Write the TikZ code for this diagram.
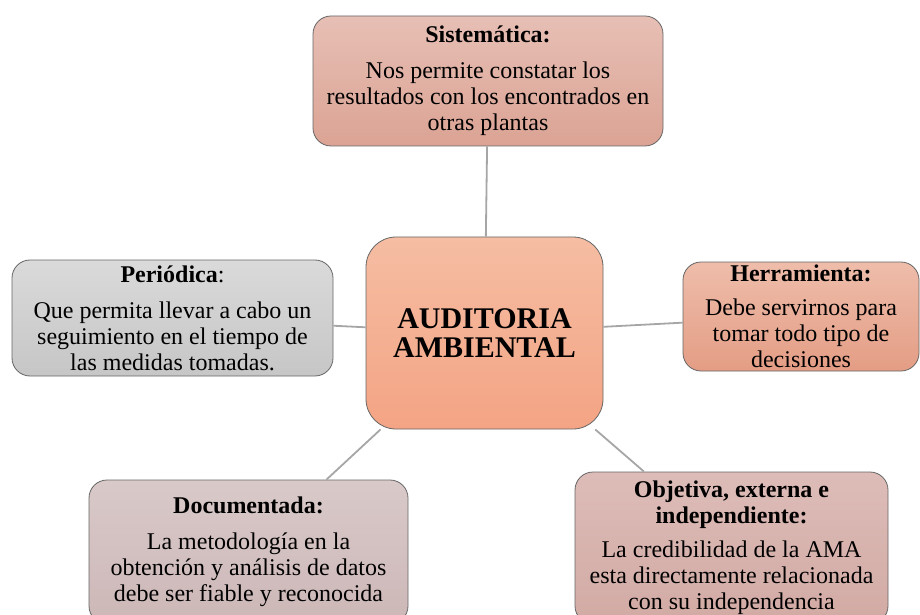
\documentclass[tikz,border=0pt]{standalone}
\usepackage{fontspec}
\setmainfont{Liberation Serif}
\usepackage{tikz}
\definecolor{sisTop}{HTML}{E7BFB5}
\definecolor{sisBot}{HTML}{DBA394}
\definecolor{audTop}{HTML}{F5BDA3}
\definecolor{audBot}{HTML}{F4A484}
\definecolor{perTop}{HTML}{DADADA}
\definecolor{perBot}{HTML}{C6C6C6}
\definecolor{herTop}{HTML}{EEBDAA}
\definecolor{herBot}{HTML}{E49D85}
\definecolor{docTop}{HTML}{D9C9C9}
\definecolor{docBot}{HTML}{CDB7B7}
\definecolor{objTop}{HTML}{DDBCB8}
\definecolor{objBot}{HTML}{D2AAA4}
\definecolor{linkGray}{HTML}{A6A6A6}
\tikzset{%
	every box/.style={
		rectangle,
		rounded corners=18pt,
		draw=black!60,
		line width=0.8pt,
		align=center,
		inner sep=0pt,
		font=\fontsize{24}{26}\selectfont
	},
	box centre/.style={
		rounded corners=30pt,
		top color=audTop, bottom color=audBot,
		minimum width=237pt, minimum height=192pt,
		font=\bfseries\fontsize{30}{29}\selectfont
	},
	box 1/.style={top color=sisTop, bottom color=sisBot, minimum width=350pt, minimum height=130pt},
	box 2/.style={top color=herTop, bottom color=herBot, minimum width=236pt, minimum height=109pt},
	box 3/.style={top color=objTop, bottom color=objBot, minimum width=313pt, minimum height=152pt},
	box 4/.style={top color=docTop, bottom color=docBot, minimum width=319pt, minimum height=144pt},
	box 5/.style={top color=perTop, bottom color=perBot, minimum width=321pt, minimum height=116pt},
	link/.style={draw=linkGray, line width=1.8pt}
}
\begin{document}
\begin{tikzpicture}[x=1pt, y=1pt]
		
		\useasboundingbox (0,0) rectangle (920,614);
		
		\node [every box, box centre] (centre) at (484.5,281) {AUDITORIA\\AMBIENTAL};
		
		\node [every box, box 1] (box-1) at (488,533)
		{\textbf{Sistemática:}\\[10pt]Nos permite constatar los\\resultados con los encontrados en\\otras plantas};
		
		\node [every box, box 2] (box-2) at (801,297.5)
		{\textbf{Herramienta:}\\[8pt]Debe servirnos para\\tomar todo tipo de\\decisiones};
		
		\node [every box, box 3] (box-3) at (731.5,66)
		{\textbf{Objetiva, externa e}\\\textbf{independiente:}\\[8pt]La credibilidad de la AMA\\esta directamente relacionada\\con su independencia};
		
		\node [every box, box 4] (box-4) at (248.5,62)
		{\textbf{Documentada:}\\[10pt]La metodología en la\\obtención y análisis de datos\\debe ser fiable y reconocida};
		
		\node [every box, box 5] (box-5) at (172.5,296)
		{\textbf{Periódica}:\\[10pt]Que permita llevar a cabo un\\seguimiento en el tiempo de\\las medidas tomadas.};
		
		\foreach \i in {1,...,5}
		\draw [link] (centre) -- (box-\i);
		
\end{tikzpicture}
\end{document}
